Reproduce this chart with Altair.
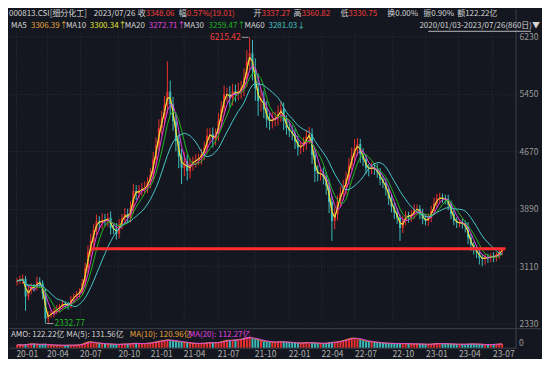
import altair as alt
import pandas as pd
import numpy as np

# ---------------- data (weekly candles) ----------------
closes = [
    2912, 2930, 2939, 2700, 2790, 2830, 2817, 2900, 2880, 2740,
    2400, 2450, 2470, 2500, 2533, 2560, 2601, 2590, 2580, 2660,
    2700, 2735, 2760, 2880, 3080, 3300, 3450, 3600, 3720, 3698,
    3740, 3725, 3765, 3630, 3616, 3549, 3680, 3760, 3819, 3765,
    3901, 4131, 4100, 4140, 4160, 4171, 4250, 4350, 4560, 4750,
    4984, 5119, 5300, 5480, 5309, 5079, 4808, 4600, 4442, 4537,
    4402, 4496, 4530, 4550, 4578, 4632, 4713, 4880, 4903, 4830,
    4900, 5080, 5250, 5444, 5444, 5390, 5485, 5450, 5480, 5525,
    5661, 5891, 6000, 5780, 5525, 5350, 5390, 5240, 5100, 5079,
    5100, 5119, 5180, 5241, 5079, 4984, 4943, 4910, 4800, 4720,
    4740, 4780, 4870, 4900, 4620, 4402, 4361, 4370, 4320, 4200,
    3980, 3725, 3820, 3990, 4100, 4180, 4300, 4480, 4610, 4713,
    4767, 4632, 4560, 4440, 4430, 4450, 4430, 4380, 4290, 4240,
    4150, 4030, 3920, 3840, 3765, 3630, 3725, 3800, 3780, 3810,
    3880, 3890, 3830, 3750, 3725, 3765, 3860, 3960, 4030, 4036,
    4030, 4020, 3950, 3820, 3725, 3698, 3700, 3690, 3650, 3500,
    3400, 3340, 3300, 3224, 3210, 3230, 3224, 3251, 3235, 3260,
    3300, 3348.06]
first_open = 2900
upper_wick = [
    40, 50, 60, 40, 60, 50, 40, 70, 60, 40,
    60, 50, 40, 40, 50, 40, 50, 30, 40, 50,
    40, 40, 50, 60, 80, 90, 100, 80, 90, 70,
    90, 80, 70, 90, 60, 80, 70, 60, 80, 70,
    90, 100, 80, 70, 80, 90, 70, 90, 100, 110,
    120, 100, 120, 410, 150, 100, 120, 90, 100, 120,
    90, 80, 70, 80, 60, 70, 90, 100, 80, 90,
    80, 110, 100, 120, 90, 110, 100, 90, 120, 100,
    130, 150, 215.42, 180, 150, 200, 120, 100, 110, 90,
    100, 90, 110, 100, 90, 80, 90, 80, 70, 80,
    70, 80, 90, 100, 80, 70, 80, 60, 80, 70,
    90, 80, 90, 80, 90, 100, 90, 100, 110, 120,
    82, 70, 80, 70, 60, 70, 60, 70, 60, 50,
    60, 50, 60, 50, 60, 50, 70, 60, 50, 60,
    70, 60, 50, 60, 50, 60, 70, 80, 60, 70,
    60, 50, 60, 50, 60, 50, 40, 50, 40, 60,
    50, 40, 50, 40, 50, 40, 50, 40, 50, 40,
    50, 12.76]
lower_wick = [
    50, 40, 60, 194, 50, 60, 50, 40, 60, 80,
    67.23, 60, 40, 50, 40, 50, 40, 50, 60, 40,
    50, 40, 50, 40, 60, 70, 60, 80, 70, 90,
    80, 70, 80, 90, 70, 80, 60, 70, 80, 70,
    60, 80, 90, 70, 80, 60, 70, 80, 90, 100,
    80, 90, 100, 120, 150, 130, 140, 160, 216, 110,
    130, 100, 90, 80, 70, 90, 80, 70, 90, 110,
    80, 90, 100, 90, 110, 120, 100, 110, 90, 100,
    110, 120, 130, 150, 170, 200, 140, 120, 110, 120,
    100, 90, 100, 110, 120, 90, 80, 90, 100, 110,
    90, 80, 90, 100, 120, 150, 100, 90, 100, 120,
    150, 271, 110, 90, 80, 90, 100, 90, 80, 90,
    100, 120, 90, 80, 100, 70, 80, 70, 80, 70,
    80, 90, 80, 90, 80, 176, 70, 60, 80, 70,
    60, 70, 80, 70, 60, 70, 60, 50, 60, 70,
    60, 70, 80, 70, 60, 70, 60, 70, 80, 90,
    80, 70, 80, 90, 100, 80, 70, 60, 70, 60,
    50, 40]
volumes = [
    90, 95, 85, 110, 120, 130, 115, 110, 100, 120, 110, 90,
    85, 80, 85, 80, 75, 80, 85, 80, 85, 90, 95,
    130, 170, 200, 190, 160, 150, 140, 130, 125, 120, 115, 110, 105,
    110, 120, 125, 120, 130, 150, 140, 135, 130, 140, 150, 160,
    180, 200, 220, 230, 250, 260, 240, 220, 210, 200, 190,
    170, 160, 150, 140, 135, 140, 145, 150, 160, 170, 165, 160,
    180, 200, 230, 250, 240, 250, 260, 270, 290, 310, 330, 340,
    300, 280, 250, 230, 210, 200, 190, 180, 180, 190, 200, 190, 180,
    170, 165, 160, 150, 150, 160, 170, 165, 160, 150, 145, 140, 140, 150, 170, 180,
    180, 200, 220, 240, 270, 300, 320, 310, 290, 260, 230, 210, 200,
    190, 180, 170, 160, 150, 145, 140, 140, 135, 130, 140, 135, 130, 130, 125, 120,
    125, 120, 115, 110, 110, 120, 130, 140, 135, 130, 130, 125, 120, 115, 110, 110, 115, 110,
    120, 125, 120, 115, 110, 105, 100, 100, 105, 110, 115, 125, 122.22]

price_ticks = [2330, 3110, 3890, 4670, 5450, 6230]
tick_days = [0, 54, 112, 180, 237, 295, 355, 420, 480, 538, 597, 663, 722, 780, 840]
tick_labels = ["20-01", "20-04", "20-07", "20-10", "21-01", "21-04", "21-07", "21-10",
               "22-01", "22-04", "22-07", "22-10", "23-01", "23-04", "23-07"]
line_span = [133, 863]          # trading-day span of the red level line

n = min(len(closes), len(upper_wick), len(lower_wick), len(volumes))
closes, upper_wick, lower_wick, volumes = closes[:n], upper_wick[:n], lower_wick[:n], volumes[:n]
opens = [first_open] + closes[:-1]
highs = [max(o, c) + u for o, c, u in zip(opens, closes, upper_wick)]
lows = [min(o, c) - l for o, c, l in zip(opens, closes, lower_wick)]
days = [5 * k + 2 for k in range(n)]
df = pd.DataFrame(dict(day=days, open=opens, close=closes, high=highs, low=lows, vol=volumes))
df["dir"] = np.where(df["close"] >= df["open"], "up", "down")

# ---------------- style ----------------
FONT = "Noto Sans CJK SC"
FS = 8
BG = "#14171f"
GRID = "#2e323d"
LINE = "#3c404b"
WHITE = "#d4d4d4"
RED = "#f03c3c"
ORANGE = "#e8a43c"
YELLOW = "#e4e43a"
MAG = "#e040e0"
GREEN = "#22b422"
CYAN = "#46c6c8"
UP = "#e8302e"
DOWN = "#3cbcbc"
W, H = 508, 339

xs = alt.Scale(domain=[-3.4, 872.8], nice=False, zero=False)
label_expr = ("[" + ",".join("'%s'" % t for t in tick_labels) + "][indexof(["
              + ",".join(str(d) for d in tick_days) + "], datum.value)]")
xaxis = alt.Axis(values=tick_days, labelExpr=label_expr, grid=True, gridDash=[1, 2],
                 gridColor=GRID, ticks=False, domain=True, domainColor=LINE,
                 labelAlign="left", labelColor="#b0b0b0", labelFontSize=8.5,
                 labelPadding=2, title=None, labelFlush=False, labelOverlap=False,
                 labelFont=FONT)
X = alt.X("day:Q", scale=xs, axis=xaxis)

ps = alt.Scale(domain=[2330, 6230], range=[315, 27], nice=False, zero=False)
vs = alt.Scale(domain=[0, 360], range=[339, 328], nice=False, zero=False)
yaxis = alt.Axis(orient="right", values=price_ticks, format="d", grid=True, gridDash=[1, 2],
                 gridColor=GRID, ticks=False, domain=False, labelColor="#9a9a9a",
                 labelFontSize=8.5, labelPadding=3, title=None, labelFont=FONT)
dircolor = alt.Color("dir:N", scale=alt.Scale(domain=["up", "down"], range=[UP, DOWN]), legend=None)

base = alt.Chart(df)
wick = base.mark_rule(strokeWidth=1).encode(
    x=X, y=alt.Y("low:Q", scale=ps, axis=yaxis), y2="high:Q", color=dircolor)
body = base.mark_bar(size=2).encode(
    x=X, y=alt.Y("open:Q", scale=ps, axis=None), y2="close:Q", color=dircolor)

srt = [alt.SortField("day")]
ma_names = ["ma5", "ma10", "ma20", "ma30", "ma60"]
ma_colors = [ORANGE, YELLOW, MAG, GREEN, CYAN]
ma = (base.transform_calculate(ma5="(datum.open + datum.close) / 2")
      .transform_window(ma10="mean(close)", frame=[-1, 0], sort=srt)
      .transform_window(ma20="mean(close)", frame=[-3, 0], sort=srt)
      .transform_window(ma30="mean(close)", frame=[-5, 0], sort=srt)
      .transform_window(ma60="mean(close)", frame=[-11, 0], sort=srt)
      .transform_fold(ma_names, as_=["ma", "val"])
      .mark_line(strokeWidth=1)
      .encode(x=X, y=alt.Y("val:Q", scale=ps, axis=None),
              color=alt.Color("ma:N", scale=alt.Scale(domain=ma_names, range=ma_colors), legend=None),
              detail="ma:N", order="day:Q"))

volbars = base.mark_bar(size=2).encode(
    x=X, y=alt.Y("vol:Q", scale=vs, axis=None), color=dircolor)
volma = (base.transform_window(v10="mean(vol)", frame=[-1, 0], sort=srt)
         .transform_window(v20="mean(vol)", frame=[-3, 0], sort=srt)
         .transform_fold(["v10", "v20"], as_=["vm", "vv"])
         .mark_line(strokeWidth=1, opacity=0.9)
         .encode(x=X, y=alt.Y("vv:Q", scale=vs, axis=None),
                 color=alt.Color("vm:N", scale=alt.Scale(domain=["v10", "v20"], range=[ORANGE, MAG]), legend=None),
                 detail="vm:N", order="day:Q"))
vol0 = alt.Chart(pd.DataFrame({"v": [0]})).mark_text(
    align="left", baseline="middle", dy=-5, fontSize=8.5, color="#9a9a9a", font=FONT).encode(
    x=alt.value(W + 3), y=alt.Y("v:Q", scale=vs, axis=None), text=alt.value("0"))

level = pd.DataFrame({"a": [line_span[0]], "b": [line_span[1]], "p": [closes[-1]]})
redline = alt.Chart(level).mark_rule(strokeWidth=3, color="#ff2e2e").encode(
    x=alt.X("a:Q", scale=xs, axis=xaxis), x2="b:Q", y=alt.Y("p:Q", scale=ps, axis=None))

ih, il = int(df["high"].idxmax()), int(df["low"].idxmin())
ext_hi = pd.DataFrame({"day": [df.loc[ih, "day"]], "p": [df.loc[ih, "high"]], "t": ["%.2f" % df.loc[ih, "high"]]})
ext_lo = pd.DataFrame({"day": [df.loc[il, "day"]], "p": [df.loc[il, "low"]], "t": ["%.2f" % df.loc[il, "low"]]})
hi_text = alt.Chart(ext_hi).mark_text(align="right", baseline="middle", dx=-9, fontSize=8.5,
                                       color=RED, font=FONT).encode(
    x=X, y=alt.Y("p:Q", scale=ps, axis=None), text="t:N")
hi_lead = alt.Chart(ext_hi).mark_rule(color="#a0a0a0", xOffset=-8, x2Offset=-1).encode(
    x=X, x2="day:Q", y=alt.Y("p:Q", scale=ps, axis=None))
lo_text = alt.Chart(ext_lo).mark_text(align="left", baseline="middle", dx=9, dy=-1, fontSize=8.5,
                                       color=GREEN, font=FONT).encode(
    x=X, y=alt.Y("p:Q", scale=ps, axis=None), text="t:N")
lo_lead = alt.Chart(ext_lo).mark_rule(color="#a0a0a0", xOffset=1, x2Offset=8).encode(
    x=X, x2="day:Q", y=alt.Y("p:Q", scale=ps, axis=None))

separator = alt.Chart(pd.DataFrame({"z": [0]})).mark_rule(color=LINE).encode(
    x=alt.value(0), x2=alt.value(W + 25), y=alt.value(320))
divider = alt.Chart(pd.DataFrame({"z": [0]})).mark_rule(color=LINE).encode(
    x=alt.value(W), y=alt.value(0), y2=alt.value(H))

# header / info texts: (text, x, y, colour)
texts = [
    ("000813.CSI[细分化工]", 0, 5, WHITE), ("2023/07/26", 85, 5, WHITE),
    ("收", 129, 5, WHITE), ("3348.06", 137, 5, RED),
    ("幅", 170, 5, WHITE), ("0.57%(19.01)", 178, 5, RED),
    ("开", 245, 5, WHITE), ("3337.27", 253, 5, RED),
    ("高", 285, 5, WHITE), ("3360.82", 293, 5, RED),
    ("低", 332, 5, WHITE), ("3330.75", 340, 5, RED),
    ("换", 379, 5, WHITE), ("0.00%", 387, 5, WHITE),
    ("振", 415, 5, WHITE), ("0.90%", 423, 5, WHITE),
    ("额", 449, 5, WHITE), ("122.22亿", 457, 5, WHITE),
    ("MA5", 2, 17, WHITE), ("3306.39↑", 22, 17, ORANGE),
    ("MA10", 57, 17, WHITE), ("3300.34↑", 81, 17, YELLOW),
    ("MA20", 116, 17, WHITE), ("3272.71↑", 140, 17, MAG),
    ("MA30", 175, 17, WHITE), ("3259.47↑", 200, 17, GREEN),
    ("MA60", 236, 17, WHITE), ("3281.03↓", 260, 17, CYAN),
    ("AMO: 122.22亿 MA(5): 131.56亿", 2, 326.5, WHITE),
    ("MA(10): 120.96亿", 121, 326.5, ORANGE), ("MA(20): 112.27亿", 180, 326.5, MAG),
]
text_layers = []
for t, x, y, c in texts:
    text_layers.append(alt.Chart(pd.DataFrame({"t": [t]})).mark_text(
        align="left", baseline="middle", fontSize=FS, color=c, font=FONT).encode(
        x=alt.value(x), y=alt.value(y), text="t:N"))
daterange = alt.Chart(pd.DataFrame({"t": ["2020/01/03-2023/07/26(860日)▼"]})).mark_text(
    align="right", baseline="middle", fontSize=FS, color=WHITE, font=FONT).encode(
    x=alt.value(532), y=alt.value(17), text="t:N")
underline = alt.Chart(pd.DataFrame({"z": [0]})).mark_rule(color="#b8b8b8").encode(
    x=alt.value(420), x2=alt.value(523), y=alt.value(22))

chart = (alt.layer(wick, body, ma, volbars, volma, redline, hi_lead, hi_text,
                   lo_lead, lo_text, vol0, separator, divider, daterange, underline, *text_layers)
         .resolve_scale(y="independent", color="independent")
         .properties(width=W, height=H, padding=0, background=BG)
         .configure_view(fill=BG, stroke=None)
         .configure_axis(labelFont=FONT))

chart.save("out.html", embed_options={"renderer": "svg", "actions": False})
